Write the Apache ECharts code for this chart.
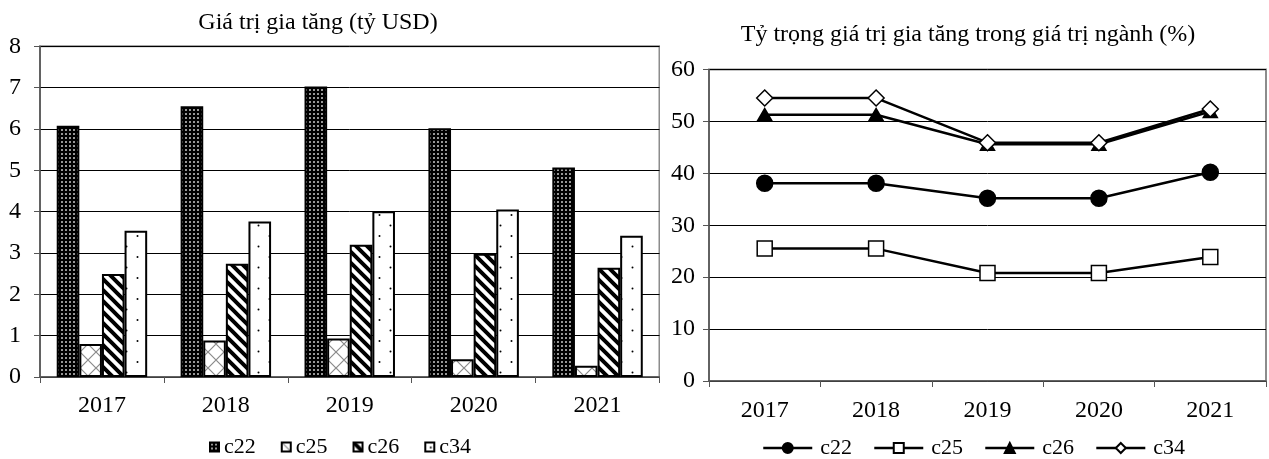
<!DOCTYPE html>
<html>
<head>
<meta charset="utf-8">
<script src="https://cdn.jsdelivr.net/npm/echarts@6/dist/echarts.min.js"></script>
<style>
  html, body { margin: 0; padding: 0; background: #fff; }
  #wrap { position: relative; width: 1269px; height: 459px; }
  #left { position: absolute; left: 0; top: 0; width: 660px; height: 459px; }
  #right { position: absolute; left: 660px; top: 0; width: 609px; height: 459px; }
</style>
</head>
<body>
<div id="wrap"><div id="left"></div><div id="right"></div></div>
<script>
// Years shared by both panels
const years = ['2017', '2018', '2019', '2020', '2021'];
const seriesNames = ['c22', 'c25', 'c26', 'c34'];

// Value added (billion USD)
const addedC22 = [6.08, 6.55, 7.03, 6.02, 5.07];
const addedC25 = [0.80, 0.88, 0.93, 0.43, 0.27];
const addedC26 = [2.49, 2.74, 3.20, 2.98, 2.64];
const addedC34 = [3.54, 3.76, 4.01, 4.05, 3.42];

// Share of value added in industry output (%)
const shareC22 = [38.1, 38.1, 35.2, 35.2, 40.2];
const shareC25 = [25.5, 25.5, 20.8, 20.8, 23.9];
const shareC26 = [51.3, 51.3, 45.6, 45.6, 51.9];
const shareC34 = [54.5, 54.5, 45.9, 45.9, 52.4];

const leftTicks = { min: 0, max: 8, interval: 1 };
const rightTicks = { min: 0, max: 60, interval: 10 };

const FONT = '"Liberation Serif", "Times New Roman", serif';

// ---- fill patterns for the bars ----
function tile(w, h, draw) {
  const c = document.createElement('canvas');
  c.width = w; c.height = h;
  const ctx = c.getContext('2d');
  draw(ctx, w, h);
  return { image: c, repeat: 'repeat' };
}
// dense light dots on black
const patDots = tile(4, 4, (ctx, w, h) => {
  ctx.fillStyle = '#000'; ctx.fillRect(0, 0, w, h);
  ctx.fillStyle = '#d8d8d8';
  ctx.beginPath(); ctx.arc(2, 2, 0.95, 0, Math.PI * 2); ctx.fill();
});
// thin grey lattice on white
const patLattice = tile(16, 16, (ctx, w, h) => {
  ctx.fillStyle = '#fff'; ctx.fillRect(0, 0, w, h);
  ctx.strokeStyle = '#8a8a8a'; ctx.lineWidth = 1.2;
  ctx.beginPath();
  ctx.moveTo(0, 0); ctx.lineTo(w, h);
  ctx.moveTo(w, 0); ctx.lineTo(0, h);
  ctx.stroke();
});
// bold black diagonal stripes
const patStripes = tile(11, 11, (ctx, w, h) => {
  ctx.fillStyle = '#fff'; ctx.fillRect(0, 0, w, h);
  ctx.strokeStyle = '#000'; ctx.lineWidth = 4;
  ctx.beginPath();
  for (let k = -1; k <= 1; k++) {
    ctx.moveTo(k * w - 2, -2); ctx.lineTo(k * w + w + 2, h + 2);
  }
  ctx.stroke();
});
// sparse staggered dots on white
const patSparse = tile(22, 21, (ctx, w, h) => {
  ctx.fillStyle = '#fff'; ctx.fillRect(0, 0, w, h);
  ctx.fillStyle = '#000';
  ctx.beginPath(); ctx.arc(5.5, 5, 1, 0, Math.PI * 2); ctx.fill();
  ctx.beginPath(); ctx.arc(16.5, 15.5, 1, 0, Math.PI * 2); ctx.fill();
});

const barFills = [patDots, patLattice, patStripes, patSparse];
const barData = [addedC22, addedC25, addedC26, addedC34];
const lineData = [shareC22, shareC25, shareC26, shareC34];
const lineSymbols = [
  { symbol: 'circle', symbolSize: 16, fill: '#000' },
  { symbol: 'rect', symbolSize: 15, fill: '#fff' },
  { symbol: 'triangle', symbolSize: [14, 12], fill: '#000' },
  { symbol: 'diamond', symbolSize: 16, fill: '#fff' }
];

const axisLabelStyle = { color: '#000', fontFamily: FONT, fontSize: 24 };
const titleStyle = { fontFamily: FONT, fontSize: 24, fontWeight: 'normal', color: '#000' };
const legendText = { fontFamily: FONT, fontSize: 22, color: '#000' };

function categoryAxis(margin) {
  return {
    type: 'category', data: years, boundaryGap: true,
    axisLine: { lineStyle: { color: '#555', width: 1.5 } },
    axisTick: { show: true, length: 6, lineStyle: { color: '#555' } },
    axisLabel: Object.assign({ margin }, axisLabelStyle),
    splitLine: { show: false }
  };
}
function valueAxis(ticks, margin) {
  return {
    type: 'value', min: ticks.min, max: ticks.max, interval: ticks.interval,
    axisLine: { show: true, lineStyle: { color: '#555', width: 1.5 } },
    axisTick: { show: true, length: 6, lineStyle: { color: '#555' } },
    axisLabel: Object.assign({ margin }, axisLabelStyle),
    splitLine: { show: true, lineStyle: { color: '#000', width: 1 } }
  };
}

// ---- left panel: grouped bars ----
const barChart = echarts.init(document.getElementById('left'), null, { renderer: 'canvas' });
barChart.setOption({
  animation: false,
  backgroundColor: '#fff',
  title: { text: 'Giá trị gia tăng (tỷ USD)', left: 318, top: 11, textAlign: 'center', padding: 0, textStyle: titleStyle },
  legend: {
    data: seriesNames.map(n => ({ name: n, icon: 'rect' })),
    left: 209, top: 436, padding: 0, itemWidth: 9, itemHeight: 9, itemGap: 25,
    selectedMode: false, textStyle: legendText
  },
  grid: { left: 40, top: 46.3, width: 619.5, height: 330.7, show: true, borderColor: '#8c8c8c', borderWidth: 2, backgroundColor: '#fff' },
  xAxis: categoryAxis(17),
  yAxis: valueAxis(leftTicks, 19),
  series: seriesNames.map((name, i) => ({
    name, type: 'bar', data: barData[i],
    barGap: '0%', barCategoryGap: '27%',
    itemStyle: { color: barFills[i], borderColor: '#000', borderWidth: 2 },
    emphasis: { disabled: true }
  }))
});

// ---- right panel: lines with markers ----
const lineChart = echarts.init(document.getElementById('right'), null, { renderer: 'canvas' });
lineChart.setOption({
  animation: false,
  backgroundColor: '#fff',
  title: { text: 'Tỷ trọng giá trị gia tăng trong giá trị ngành (%)', left: 308, top: 23, textAlign: 'center', padding: 0, textStyle: titleStyle },
  legend: {
    data: seriesNames, left: 102, top: 437, padding: 0, itemWidth: 49, itemHeight: 12.5, itemGap: 21,
    selectedMode: false,
    lineStyle: { color: '#000', width: 2.5 },
    textStyle: Object.assign({ padding: [0, 0, 0, 3] }, legendText)
  },
  grid: { left: 49, top: 69.5, width: 557, height: 311.5, show: true, borderColor: '#8c8c8c', borderWidth: 2, backgroundColor: '#fff' },
  xAxis: categoryAxis(18),
  yAxis: valueAxis(rightTicks, 14),
  series: seriesNames.map((name, i) => {
    const s = lineSymbols[i];
    return {
      name, type: 'line', data: lineData[i],
      symbol: s.symbol, symbolSize: s.symbolSize, showAllSymbol: true,
      lineStyle: { color: '#000', width: 2.5 },
      itemStyle: { color: s.fill, borderColor: '#000', borderWidth: 1.5 },
      emphasis: { disabled: true }
    };
  })
});
</script>
</body>
</html>
